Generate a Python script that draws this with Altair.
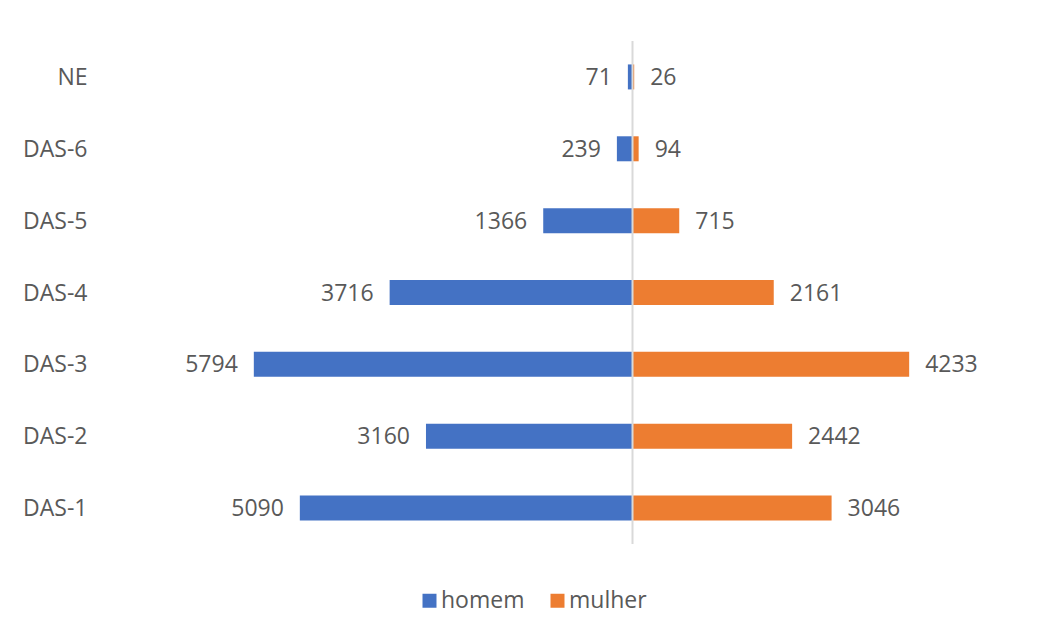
import altair as alt
import pandas as pd

categories = ["NE", "DAS-6", "DAS-5", "DAS-4", "DAS-3", "DAS-2", "DAS-1"]
homem = [71, 239, 1366, 3716, 5794, 3160, 5090]
mulher = [26, 94, 715, 2161, 4233, 2442, 3046]
series = ["homem", "mulher"]
colors = ["#4472C4", "#ED7D31"]

rows = []
for c, h, m in zip(categories, homem, mulher):
    rows.append({"cat": c, "grupo": "homem", "valor": h, "pos": -h})
    rows.append({"cat": c, "grupo": "mulher", "valor": m, "pos": m})
df = pd.DataFrame(rows)

FONT = "Open Sans"
TXT = "#595959"

xscale = alt.Scale(domain=[-7000, 6250], nice=False, zero=False)
yscale = alt.Scale(domain=categories, paddingInner=0, paddingOuter=0)

base = alt.Chart(df)

bars = base.mark_bar(size=25).encode(
    x=alt.X("pos:Q", scale=xscale, axis=None),
    x2=alt.datum(0),
    y=alt.Y("cat:N", scale=yscale, sort=categories, title=None,
            axis=alt.Axis(ticks=False, domain=False, labelPadding=88,
                          minExtent=167, maxExtent=167, labelFont=FONT,
                          labelFontSize=23, labelColor=TXT, labelAlign="right",
                          labelBaseline="middle", labelOffset=1)),
    color=alt.Color("grupo:N", scale=alt.Scale(domain=series, range=colors),
                    legend=alt.Legend(title=None, orient="none", legendX=239, legendY=544,
                                      padding=4,
                                      direction="horizontal", symbolType="square",
                                      symbolSize=196, symbolStrokeWidth=0,
                                      labelFont=FONT, labelFontSize=23, labelColor=TXT,
                                      labelOffset=0, columnPadding=21, labelLimit=300)),
)

left_labels = base.transform_filter(alt.datum.grupo == "homem").mark_text(
    align="right", baseline="middle", dx=-16, dy=1, font=FONT, fontSize=23, color=TXT
).encode(
    x=alt.X("pos:Q", scale=xscale),
    y=alt.Y("cat:N", scale=yscale, sort=categories),
    text=alt.Text("valor:Q", format="d"),
)

right_labels = base.transform_filter(alt.datum.grupo == "mulher").mark_text(
    align="left", baseline="middle", dx=16, dy=1, font=FONT, fontSize=23, color=TXT
).encode(
    x=alt.X("pos:Q", scale=xscale),
    y=alt.Y("cat:N", scale=yscale, sort=categories),
    text=alt.Text("valor:Q", format="d"),
)

center = alt.Chart(pd.DataFrame({"z": [0]})).mark_rule(color="#D9D9D9", strokeWidth=2).encode(
    x=alt.X("z:Q", scale=xscale)
)

chart = alt.layer(bars, center, left_labels, right_labels).properties(
    width=866, height=503,
    padding={"left": 0, "top": 32, "right": 0, "bottom": 0},
    background="white",
).configure_view(stroke=None)

chart.save("out.html", embed_options={"renderer": "svg", "actions": False})
